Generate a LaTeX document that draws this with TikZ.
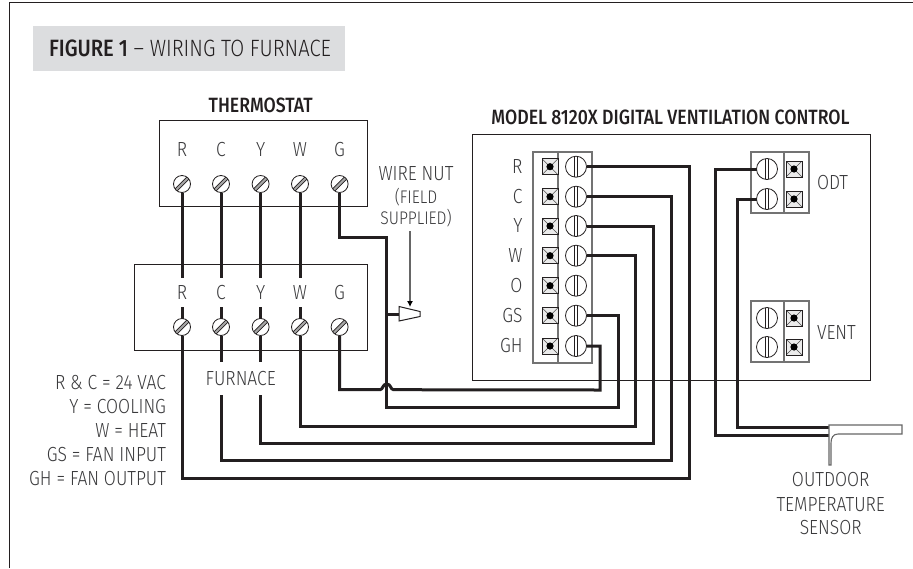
\documentclass[tikz,border=0pt]{standalone}
\usepackage{fontspec}
\usetikzlibrary{arrows.meta}
\setmainfont{Fira Sans}[UprightFont=* Light,BoldFont=* Medium,FakeStretch=0.855]
\newdimen\pxu \pxu=0.75pt
\definecolor{ink}{HTML}{231F20}
\definecolor{txt}{HTML}{3A3A3C}
\definecolor{band}{HTML}{DCDDDF}
\tikzset{
  every node/.style={inner sep=0pt,outer sep=0pt,text=txt},
  lab/.style={font=\fontsize{15.3pt}{17pt}\selectfont},
  small lab/.style={font=\fontsize{13.7pt}{15pt}\selectfont},
  termlab/.style={lab,minimum height=29*\pxu,minimum width=16*\pxu},
  head/.style={font=\fontsize{15.5pt}{17pt}\selectfont\bfseries,text=ink},
  wire/.style={draw=ink,line width=3*\pxu,line join=miter},
  thin box/.style={draw=ink,line width=1*\pxu},
  grey box/.style={draw=black!55,line width=1.1*\pxu},
  dscrew/.style={circle,draw=ink,fill=white,line width=.8*\pxu,minimum size=17*\pxu,
    path picture={
      \fill[black!35]
        ([xshift=-9.1*\pxu,yshift=-6.9*\pxu]path picture bounding box.center) --
        ([xshift=6.9*\pxu,yshift=9.1*\pxu]path picture bounding box.center) --
        ([xshift=9.1*\pxu,yshift=6.9*\pxu]path picture bounding box.center) --
        ([xshift=-6.9*\pxu,yshift=-9.1*\pxu]path picture bounding box.center) -- cycle;
      \draw[ink,line width=.7*\pxu]
        ([xshift=-9.1*\pxu,yshift=-6.9*\pxu]path picture bounding box.center) --
        ([xshift=6.9*\pxu,yshift=9.1*\pxu]path picture bounding box.center)
        ([xshift=9.1*\pxu,yshift=6.9*\pxu]path picture bounding box.center) --
        ([xshift=-6.9*\pxu,yshift=-9.1*\pxu]path picture bounding box.center);
    }},
  vscrew/.style={circle,draw=ink,fill=white,line width=.8*\pxu,minimum size=21*\pxu,
    path picture={
      \draw[ink,line width=.7*\pxu]
        ([xshift=-1.6*\pxu,yshift=-11*\pxu]path picture bounding box.center) --
        ([xshift=-1.6*\pxu,yshift=11*\pxu]path picture bounding box.center)
        ([xshift=1.6*\pxu,yshift=-11*\pxu]path picture bounding box.center) --
        ([xshift=1.6*\pxu,yshift=11*\pxu]path picture bounding box.center);
    }},
  lug/.style={rectangle,draw=ink,fill=black!8,line width=.8*\pxu,minimum size=16*\pxu,
    path picture={
      \draw[black!70,line width=.6*\pxu]
        (path picture bounding box.south west) -- (path picture bounding box.north east)
        (path picture bounding box.north west) -- (path picture bounding box.south east);
      \fill[black] (path picture bounding box.center) circle (3.6*\pxu);
    }},
}
\begin{document}
\begin{tikzpicture}[x=0.75pt,y=-0.75pt]
\useasboundingbox (0,0) rectangle (913,568);
\fill[white] (0,0) rectangle (913,568);
% page frame
\coordinate (fa) at (9.5,568); \coordinate (fb) at (9.5,2.5); \coordinate (fc) at (913,2.5);
\draw[ink,line width=1.1*\pxu] (fa) -- (fb) -- (fc);
% title band
\node[fill=band,minimum width=312*\pxu,minimum height=45*\pxu] (band) at (189,48.5) {};
\node[font=\fontsize{17.7pt}{19pt}\selectfont,text=ink,anchor=west] (title) at (49,48.5) {\textbf{FIGURE 1} – WIRING TO FURNACE};
% boxes
\node[head] (hT) at (260.7,105) {THERMOSTAT};
\node[head] (hM) at (670.5,117) {MODEL 8120X DIGITAL VENTILATION CONTROL};
\node[thin box,minimum width=208*\pxu,minimum height=85.5*\pxu] (tbox) at (263.8,163.3) {};
\node[thin box,minimum width=233*\pxu,minimum height=86*\pxu] (fbox) at (250.8,307) {};
\node[thin box,minimum width=398*\pxu,minimum height=246*\pxu] (cbox) at (671,257) {};
\node[grey box,minimum width=59*\pxu,minimum height=211*\pxu] (strip) at (562.5,257.5) {};
\draw[grey box] (558,152) -- (558,363);
\node[grey box,minimum width=58*\pxu,minimum height=61*\pxu] (odt) at (780,182.5) {};
\draw[grey box] (784,152) -- (784,213);
\node[grey box,minimum width=58*\pxu,minimum height=61*\pxu] (vent) at (780,331.5) {};
\draw[grey box] (784,301) -- (784,362);
% thermostat and furnace terminals
\foreach \n/\x in {R/182,C/221,Y/260.6,W/300,G/339.6}{
  \node[lab] at (\x,150) {\n};
  \node[dscrew] (t\n) at (\x,184) {};
  \node[dscrew] (f\n) at (\x,327) {};
  \node[termlab] (l\n) at (\x,292.5) {\n};
}
% control strip
\foreach \n/\y in {R/166.7,C/196.7,Y/226,W/255.7,O/285.7,GS/315.7,GH/346}{
  \node[lab,anchor=east] at (522.5,\y) {\n};
  \node[lug] (q\n) at (550,\y) {};
  \node[vscrew] (s\n) at (576,\y) {};
}
% ODT and VENT
\node[vscrew] (o1) at (767,169) {}; \node[lug] at (794,169) {};
\node[vscrew] (o2) at (767,199) {}; \node[lug] at (794,199) {};
\node[vscrew] (v1) at (767,318) {}; \node[lug] at (794,318) {};
\node[vscrew] (v2) at (767,347) {}; \node[lug] at (794,347) {};
\node[lab,anchor=west] at (817,182.5) {ODT};
\node[lab,anchor=west] at (817,333) {VENT};
% other labels
\node[lab,minimum height=33*\pxu] (furn) at (240.7,378.5) {FURNACE};
\node[lab] (nut1) at (416,173.5) {WIRE NUT};
\node[small lab] (nut2) at (416,197) {(FIELD};
\node[small lab] (nut3) at (416,218) {SUPPLIED)};
\foreach \t/\y in {R \& C = 24 VAC/382.5,Y = COOLING/407,W = HEAT/431,GS = FAN INPUT/455,GH = FAN OUTPUT/478.5}
  \node[lab,anchor=east] at (166,\y) {\t};
\node[lab] at (830.7,480) {OUTDOOR};
\node[lab] at (830.7,504.5) {TEMPERATURE};
\node[lab] at (830.7,528) {SENSOR};
% wire nut
\node[minimum size=0pt] (nutL) at (399,314) {};
\coordinate (nutTop) at (410,307);
\draw[black!60,line width=.8pt,-{Latex[length=4.5pt,width=4.5pt,black]}] (410,231) -- (nutTop);
\draw[ink,line width=1*\pxu,fill=white] (399,306.5) -- (420,311.5) -- (420,316.5) -- (399,321) -- cycle;
% thermostat to furnace wires
\foreach \n in {R,C,Y,W}{
  \draw[wire] (t\n.south) -- (l\n.north);
  \draw[wire] (l\n.south) -- (f\n.north);
}
% furnace to control wires
\coordinate (cR) at (689,478); \coordinate (cC) at (671,460); \coordinate (cY) at (653,443);
\coordinate (cW) at (635,426); \coordinate (cS) at (618,407); \coordinate (cG) at (600,390);
\draw[wire] (sR.east) -| (cR) -- (cR -| fR) -- (fR.south);
\draw[wire] (sC.east) -| (cC) -- (cC -| fC) -- (fC.south |- furn.south);
\draw[wire] (fC.south) -- (fC.south |- furn.north);
\draw[wire] (sY.east) -| (cY) -- (cY -| fY) -- (fY.south |- furn.south);
\draw[wire] (fY.south) -- (fY.south |- furn.north);
\draw[wire] (sW.east) -| (cW) -- (cW -| fW) -- (fW.south);
% thermostat G to GS through the nut
\coordinate (gBend) at (386.7,237);
\draw[wire] (tG.south) |- (gBend) -- (gBend |- cS) -- (cS) -- (sGS.east -| cS) -- (sGS.east);
\draw[wire] (gBend |- nutL) -- (nutL);
% furnace G to GH with a hop
\coordinate (hopL) at (380,389.7); \coordinate (hopR) at (393.5,389.7);
\draw[wire] (fG.south) |- (hopL) .. controls (383,389.7) and (382.5,384) .. (386.7,384) .. controls (391,384) and (390.5,389.7) .. (hopR) -- (cG) -- (sGH.east -| cG) -- (sGH.east);
% ODT wires and sensor
\coordinate (sensA) at (829,435.7); \coordinate (sensB) at (829,427);
\draw[wire] (o1.west) -| (715,435.7) -- (sensA);
\draw[wire] (o2.west) -| (737,427) -- (sensB);
\draw[black!60,fill=white,line width=1.1*\pxu] (829,425) -- (902,425) -- (902,434) -- (838,434) .. controls (833,434) and (831,438) .. (831,443) -- (831,465) -- (829,465) -- cycle;
\end{tikzpicture}
\end{document}
